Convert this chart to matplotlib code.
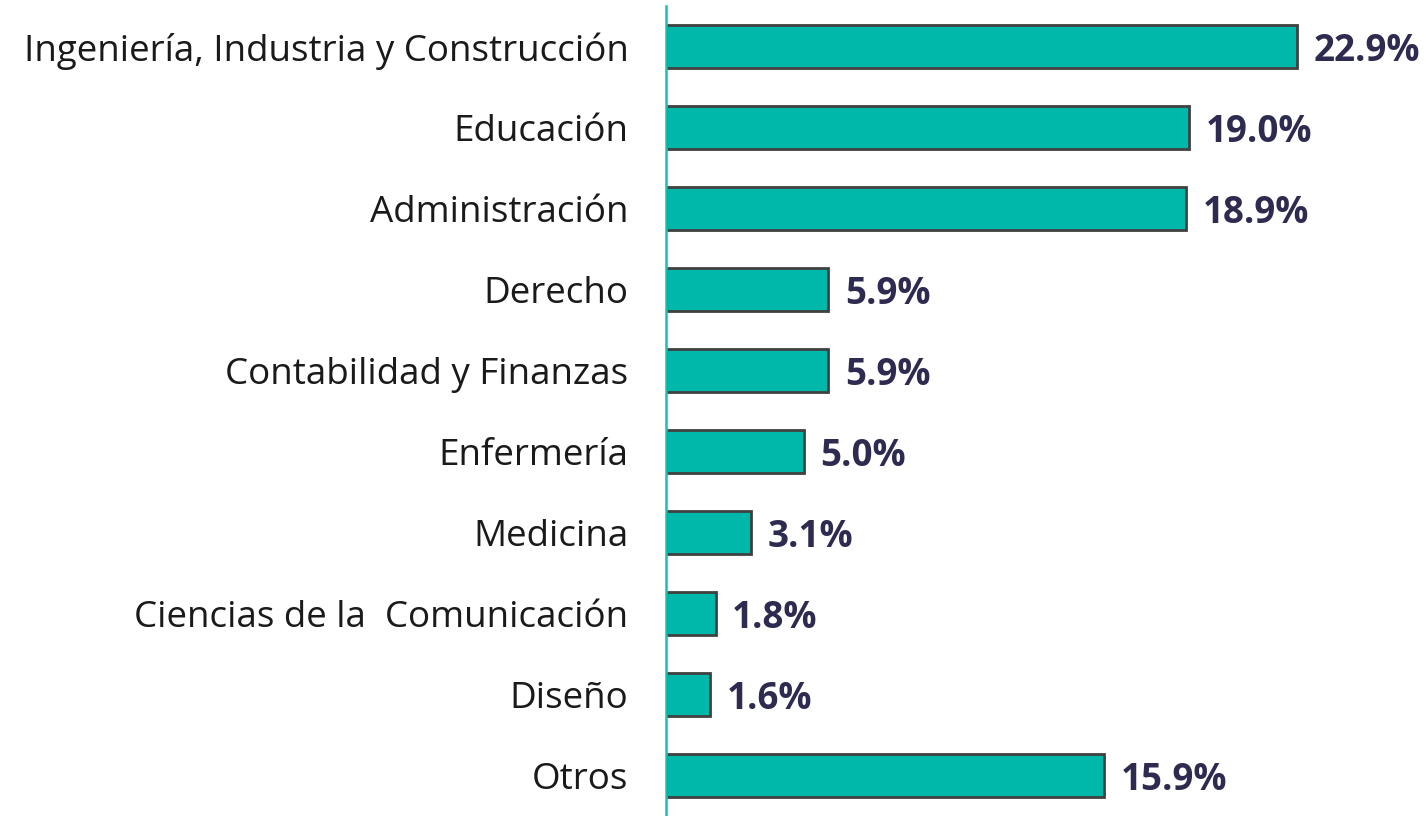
import matplotlib
matplotlib.use('Agg')
import matplotlib.pyplot as plt

categories = ['Ingeniería, Industria y Construcción', 'Educación', 'Administración',
              'Derecho', 'Contabilidad y Finanzas', 'Enfermería', 'Medicina',
              'Ciencias de la  Comunicación', 'Diseño', 'Otros']
values = [22.9, 19.0, 18.9, 5.9, 5.9, 5.0, 3.1, 1.8, 1.6, 15.9]
value_labels = ['22.9%', '19.0%', '18.9%', '5.9%', '5.9%', '5.0%', '3.1%', '1.8%', '1.6%', '15.9%']

plt.rcParams['font.family'] = ['Open Sans', 'DejaVu Sans']

fig = plt.figure(figsize=(14.26, 8.16), dpi=100)
ax = fig.add_axes([666 / 1426, 0, 1 - 666 / 1426, 810 / 816])

pos = list(range(len(categories)))
ax.barh(pos, values, height=0.52, color='#00B8A9', edgecolor='#404040', linewidth=2)

for p, v, lab in zip(pos, values, value_labels):
    ax.text(v + 0.6, p + 0.05, lab, va='center', ha='left', fontsize=26.5,
            fontweight='bold', color='#2E2B50')

ax.set_xlim(0, 27.6)
ax.set_ylim(len(categories) - 0.5, -0.5)
ax.set_yticks(pos)
ax.set_yticklabels(categories, fontsize=26.5, color='#1a1a1a')
ax.tick_params(axis='y', length=0, pad=27)
ax.set_xticks([])
for s in ['top', 'right', 'bottom']:
    ax.spines[s].set_visible(False)
ax.spines['left'].set_color('#1ABFB0')
ax.spines['left'].set_linewidth(1.8)

fig.savefig('out.png', dpi=100)
